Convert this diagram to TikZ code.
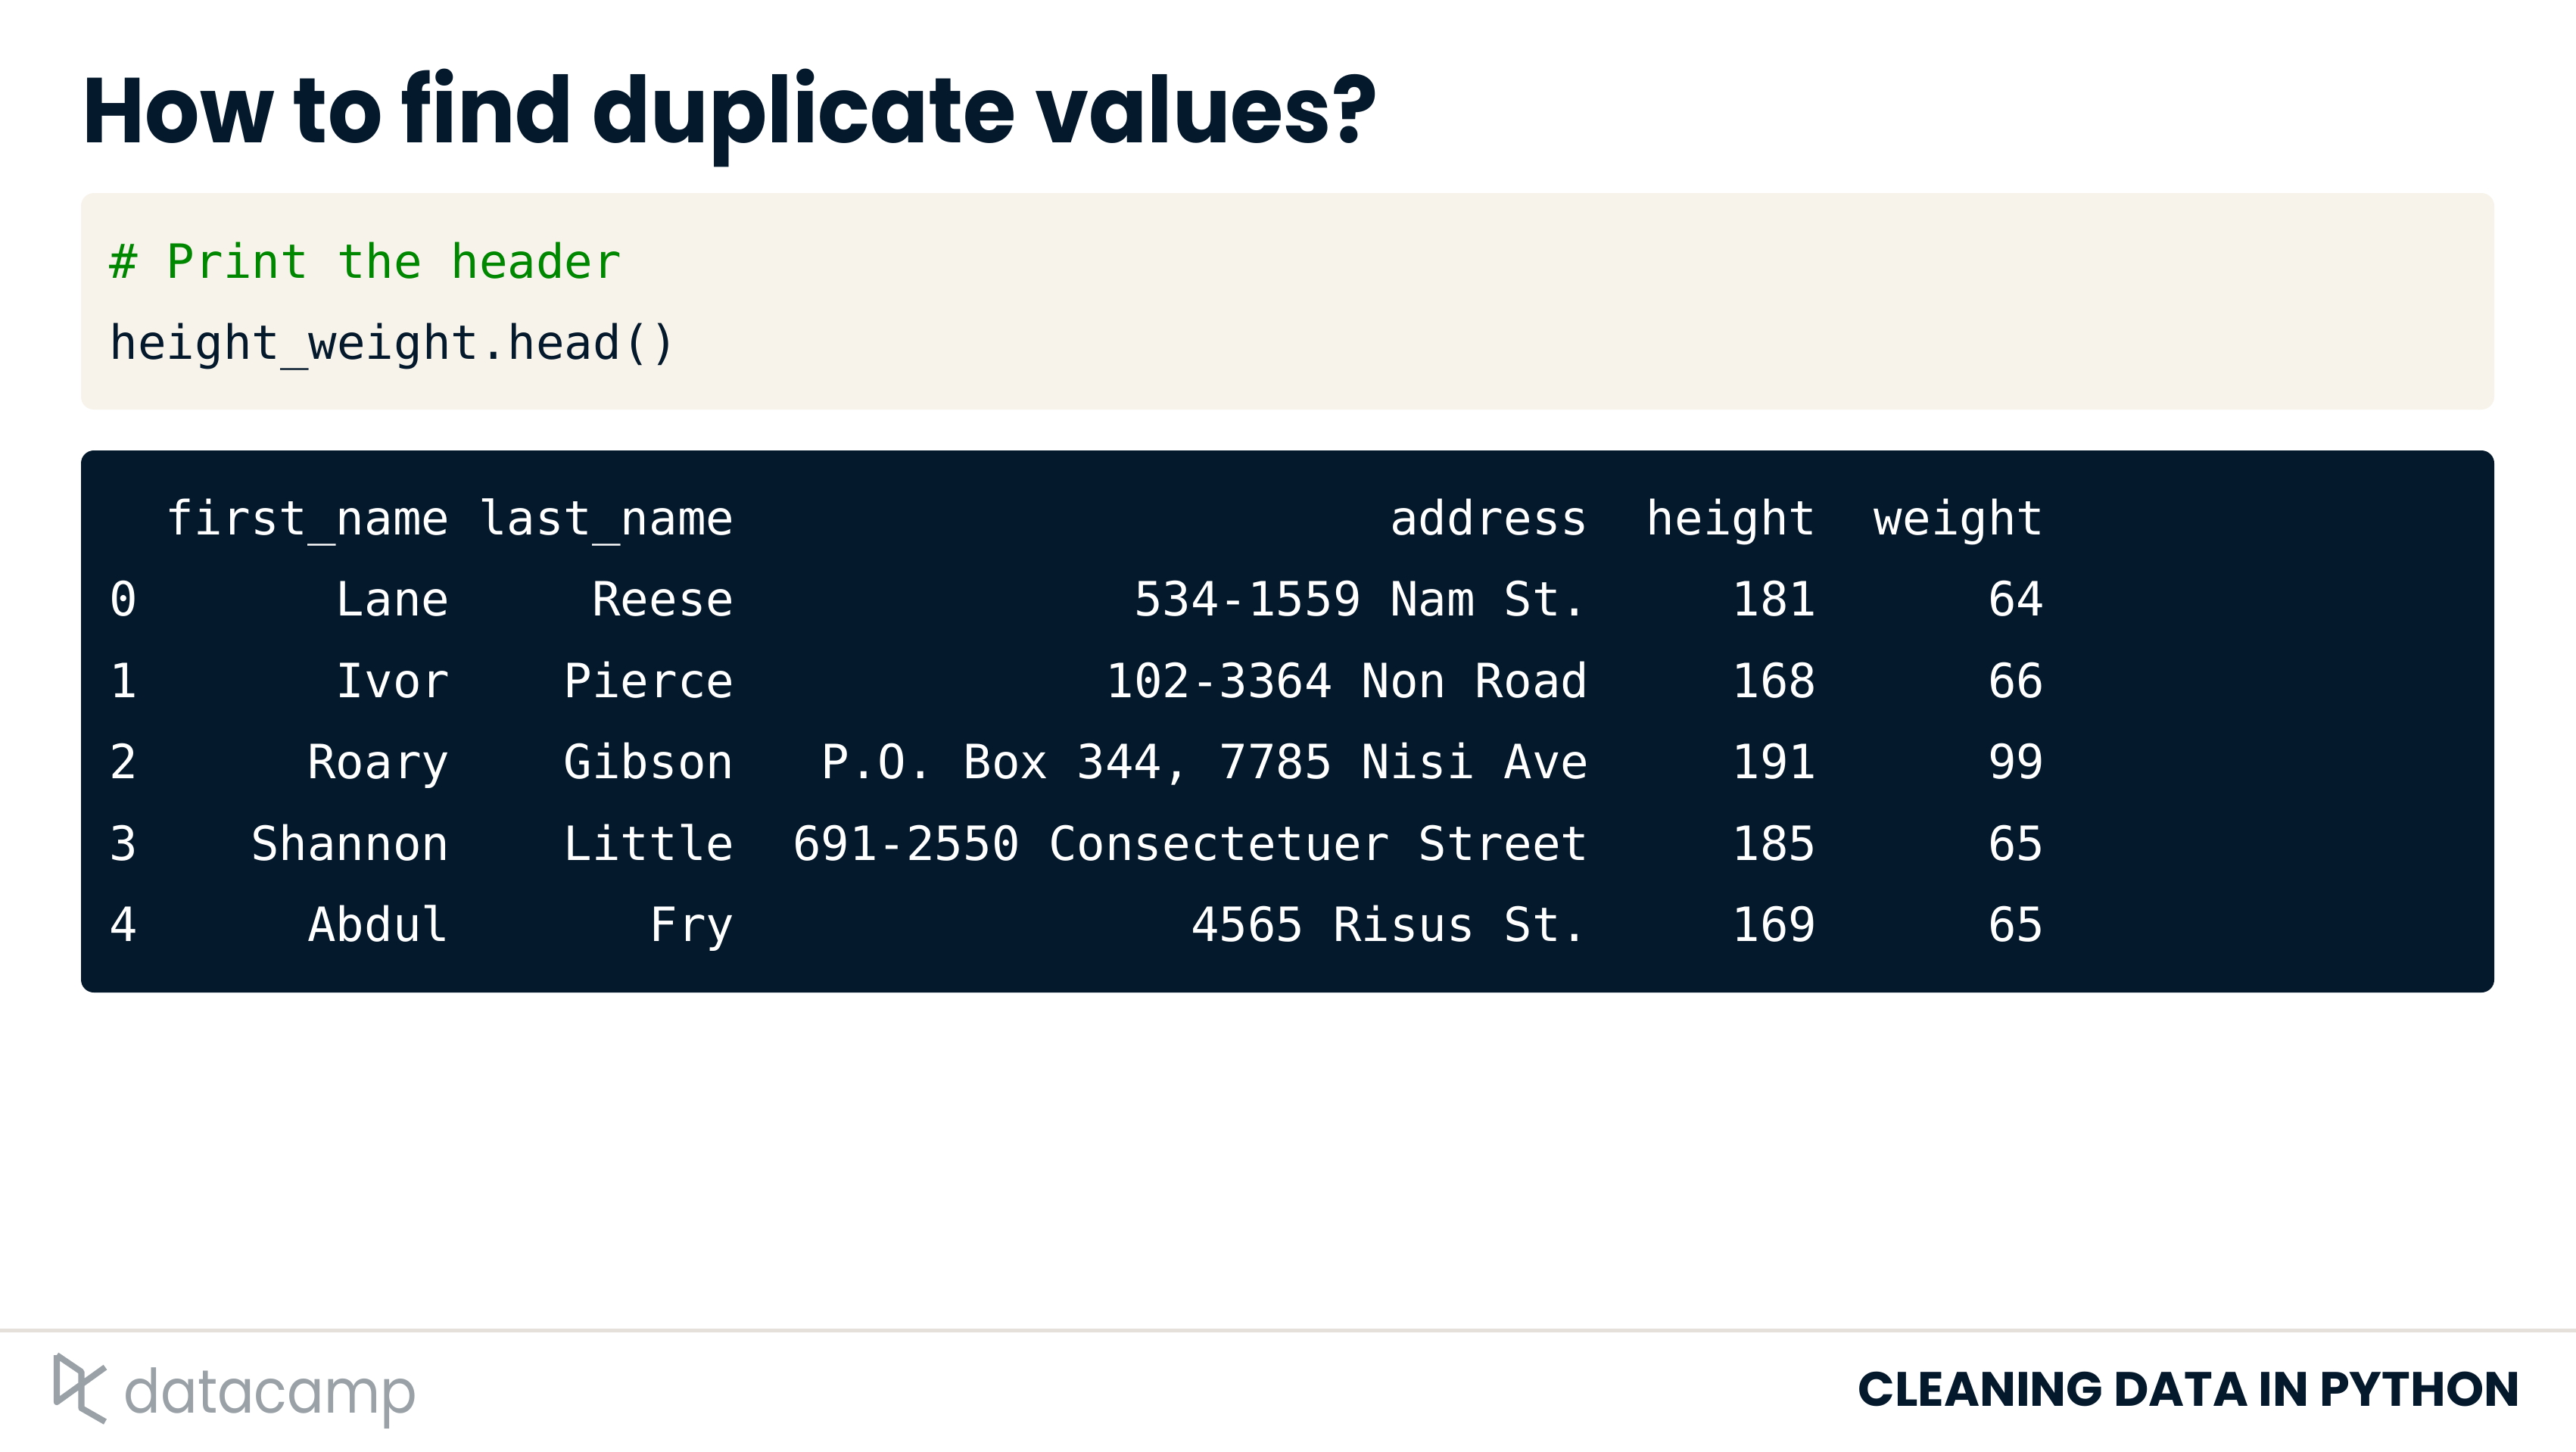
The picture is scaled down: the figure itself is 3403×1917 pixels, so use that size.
\documentclass[tikz,border=0pt]{standalone}
\usepackage{fontspec}
\setmainfont{Poppins}
\newfontfamily\codefont{DejaVu Sans Mono}
\usetikzlibrary{positioning}
\definecolor{navy}{HTML}{05192D}
\definecolor{cream}{HTML}{F7F3EB}
\definecolor{rulegray}{HTML}{E5E1DA}
\definecolor{logogray}{HTML}{9AA2A8}
\definecolor{codegreen}{HTML}{008700}
\tikzset{
  x=0.01cm,y=-0.01cm,
  panel/.style={rounded corners=0.17cm},
  code/.style={inner sep=0,font=\codefont\fontsize{17.75}{20}\selectfont},
  cell/.style={code,anchor=base east,text=white},
  idx/.style={code,anchor=base west,text=white},
  src/.style={code,anchor=base west},
}
\newcommand{\tablerow}[8]{%
  \node[idx] (i#1) at (144,#2) {#3};
  \node[cell] (f#1) at (595,#2) {#4};
  \node[cell] (l#1) at (971,#2) {#5};
  \node[cell] (a#1) at (2100,#2) {#6};
  \node[cell] (h#1) at (2401,#2) {#7};
  \node[cell] (w#1) at (2702,#2) {#8};
}
\begin{document}
\begin{tikzpicture}
\useasboundingbox (0,0) rectangle (3403,1917);
\fill[white] (0,0) rectangle (3403,1917);
\node[anchor=base west,inner sep=0,text=navy,font=\bfseries\fontsize{34.6}{40}\selectfont] (title) at (108,188) {\scalebox{.935}[1]{How to find duplicate values?}};
\fill[cream,panel] (107,255) rectangle (3295,541);
\node[src,text=codegreen] (c1) at (144,367) {\# Print the header};
\node[src,text=navy] (c2) at (144,474) {height\_weight.head()};
\fill[navy,panel] (107,595) rectangle (3295,1311);
\tablerow{h}{706}{}{first\_name}{last\_name}{address}{height}{weight}
\tablerow{0}{813}{0}{Lane}{Reese}{534-1559 Nam St.}{181}{64}
\tablerow{1}{921}{1}{Ivor}{Pierce}{102-3364 Non Road}{168}{66}
\tablerow{2}{1028}{2}{Roary}{Gibson}{P.O. Box 344, 7785 Nisi Ave}{191}{99}
\tablerow{3}{1136}{3}{Shannon}{Little}{691-2550 Consectetuer Street}{185}{65}
\tablerow{4}{1243}{4}{Abdul}{Fry}{4565 Risus St.}{169}{65}
\draw[rulegray,line width=1.4pt] (0,1757.5) -- (3403,1757.5);
\draw[logogray,line width=2.3pt,line join=round] (75,1790) -- (75,1852) -- (139,1806) (75,1790) -- (107.5,1812) -- (107.5,1860) -- (139,1878);
\node[anchor=base west,inner sep=0,text=logogray,font=\fontsize{23}{25}\selectfont] (logo) at (163,1866) {\scalebox{.89}[1]{datacamp}};
\node[anchor=base east,inner sep=0,text=navy,font=\bfseries\fontsize{18.15}{20}\selectfont] (course) at (3330,1857) {CLEANING DATA IN PYTHON};
\end{tikzpicture}
\end{document}
